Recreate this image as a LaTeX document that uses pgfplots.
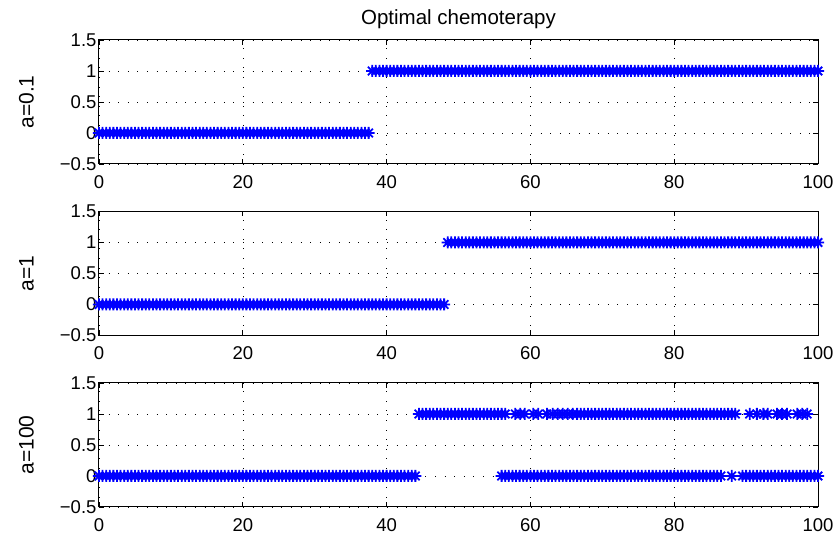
\documentclass[border=0pt]{standalone}
\usepackage{fontspec}
\setmainfont{Liberation Sans}
\usepackage{pgfplots}
\pgfplotsset{compat=1.18}

% MATLAB-like 8-arm asterisk
\pgfdeclareplotmark{mstar}{%
  \pgfpathmoveto{\pgfpoint{-\pgfplotmarksize}{0pt}}\pgfpathlineto{\pgfpoint{\pgfplotmarksize}{0pt}}%
  \pgfpathmoveto{\pgfpoint{0pt}{-\pgfplotmarksize}}\pgfpathlineto{\pgfpoint{0pt}{\pgfplotmarksize}}%
  \pgfpathmoveto{\pgfpoint{-0.707\pgfplotmarksize}{-0.707\pgfplotmarksize}}\pgfpathlineto{\pgfpoint{0.707\pgfplotmarksize}{0.707\pgfplotmarksize}}%
  \pgfpathmoveto{\pgfpoint{-0.707\pgfplotmarksize}{0.707\pgfplotmarksize}}\pgfpathlineto{\pgfpoint{0.707\pgfplotmarksize}{-0.707\pgfplotmarksize}}%
  \pgfusepathqstroke}

\pgfplotsset{
  panel/.style={
    scale only axis, width=719pt, height=124pt,
    xmin=0, xmax=100, ymin=-0.5, ymax=1.5,
    xtick={0,20,40,60,80,100}, xticklabels={0,20,40,60,80,100},
    ytick={-0.5,0,0.5,1,1.5}, yticklabels={−0.5,0,0.5,1,1.5},
    grid=major,
    grid style={black, line width=0.6pt, dash pattern=on 0.6pt off 9pt},
    tick align=inside, major tick length=5pt,
    axis line style={line width=1pt},
    every tick/.style={black, line width=0.8pt},
    tick label style={font=\fontsize{18.5}{20}\selectfont},
    yticklabel style={xshift=1pt},
    xticklabel style={yshift=-8pt},
    ylabel style={font=\fontsize{21}{23}\selectfont, at={(axis description cs:0,0.5)}, anchor=center, yshift=72.5pt},
    clip=false,
  },
  dots/.style={only marks, mark=mstar, color=blue, mark size=6pt, line width=1.8pt},
}

\begin{document}
\begin{tikzpicture}
\path[use as bounding box] (-99pt,-31pt) rectangle (739pt,507pt);

% ---------------- a = 0.1 ----------------
\begin{axis}[panel, at={(0pt,343pt)}, ylabel={a=0.1},
  title={Optimal chemoterapy}, title style={font=\fontsize{20.5}{22}\selectfont, yshift=2pt}]
\addplot[dots] coordinates {
(0,0) (0.5,0) (1,0) (1.5,0) (2,0) (2.5,0) (3,0) (3.5,0) (4,0) (4.5,0)
(5,0) (5.5,0) (6,0) (6.5,0) (7,0) (7.5,0) (8,0) (8.5,0) (9,0) (9.5,0)
(10,0) (10.5,0) (11,0) (11.5,0) (12,0) (12.5,0) (13,0) (13.5,0) (14,0) (14.5,0)
(15,0) (15.5,0) (16,0) (16.5,0) (17,0) (17.5,0) (18,0) (18.5,0) (19,0) (19.5,0)
(20,0) (20.5,0) (21,0) (21.5,0) (22,0) (22.5,0) (23,0) (23.5,0) (24,0) (24.5,0)
(25,0) (25.5,0) (26,0) (26.5,0) (27,0) (27.5,0) (28,0) (28.5,0) (29,0) (29.5,0)
(30,0) (30.5,0) (31,0) (31.5,0) (32,0) (32.5,0) (33,0) (33.5,0) (34,0) (34.5,0)
(35,0) (35.5,0) (36,0) (36.5,0) (37,0) (37.5,0)
};
\addplot[dots] coordinates {
(38,1) (38.5,1) (39,1) (39.5,1)
(40,1) (40.5,1) (41,1) (41.5,1) (42,1) (42.5,1) (43,1) (43.5,1) (44,1) (44.5,1)
(45,1) (45.5,1) (46,1) (46.5,1) (47,1) (47.5,1) (48,1) (48.5,1) (49,1) (49.5,1)
(50,1) (50.5,1) (51,1) (51.5,1) (52,1) (52.5,1) (53,1) (53.5,1) (54,1) (54.5,1)
(55,1) (55.5,1) (56,1) (56.5,1) (57,1) (57.5,1) (58,1) (58.5,1) (59,1) (59.5,1)
(60,1) (60.5,1) (61,1) (61.5,1) (62,1) (62.5,1) (63,1) (63.5,1) (64,1) (64.5,1)
(65,1) (65.5,1) (66,1) (66.5,1) (67,1) (67.5,1) (68,1) (68.5,1) (69,1) (69.5,1)
(70,1) (70.5,1) (71,1) (71.5,1) (72,1) (72.5,1) (73,1) (73.5,1) (74,1) (74.5,1)
(75,1) (75.5,1) (76,1) (76.5,1) (77,1) (77.5,1) (78,1) (78.5,1) (79,1) (79.5,1)
(80,1) (80.5,1) (81,1) (81.5,1) (82,1) (82.5,1) (83,1) (83.5,1) (84,1) (84.5,1)
(85,1) (85.5,1) (86,1) (86.5,1) (87,1) (87.5,1) (88,1) (88.5,1) (89,1) (89.5,1)
(90,1) (90.5,1) (91,1) (91.5,1) (92,1) (92.5,1) (93,1) (93.5,1) (94,1) (94.5,1)
(95,1) (95.5,1) (96,1) (96.5,1) (97,1) (97.5,1) (98,1) (98.5,1) (99,1) (99.5,1)
(100,1)
};
\end{axis}

% ---------------- a = 1 ----------------
\begin{axis}[panel, at={(0pt,171.5pt)}, ylabel={a=1}]
\addplot[dots] coordinates {
(0,0) (0.5,0) (1,0) (1.5,0) (2,0) (2.5,0) (3,0) (3.5,0) (4,0) (4.5,0)
(5,0) (5.5,0) (6,0) (6.5,0) (7,0) (7.5,0) (8,0) (8.5,0) (9,0) (9.5,0)
(10,0) (10.5,0) (11,0) (11.5,0) (12,0) (12.5,0) (13,0) (13.5,0) (14,0) (14.5,0)
(15,0) (15.5,0) (16,0) (16.5,0) (17,0) (17.5,0) (18,0) (18.5,0) (19,0) (19.5,0)
(20,0) (20.5,0) (21,0) (21.5,0) (22,0) (22.5,0) (23,0) (23.5,0) (24,0) (24.5,0)
(25,0) (25.5,0) (26,0) (26.5,0) (27,0) (27.5,0) (28,0) (28.5,0) (29,0) (29.5,0)
(30,0) (30.5,0) (31,0) (31.5,0) (32,0) (32.5,0) (33,0) (33.5,0) (34,0) (34.5,0)
(35,0) (35.5,0) (36,0) (36.5,0) (37,0) (37.5,0) (38,0) (38.5,0) (39,0) (39.5,0)
(40,0) (40.5,0) (41,0) (41.5,0) (42,0) (42.5,0) (43,0) (43.5,0) (44,0) (44.5,0)
(45,0) (45.5,0) (46,0) (46.5,0) (47,0) (47.5,0) (48,0)
};
\addplot[dots] coordinates {
(48.5,1) (49,1) (49.5,1)
(50,1) (50.5,1) (51,1) (51.5,1) (52,1) (52.5,1) (53,1) (53.5,1) (54,1) (54.5,1)
(55,1) (55.5,1) (56,1) (56.5,1) (57,1) (57.5,1) (58,1) (58.5,1) (59,1) (59.5,1)
(60,1) (60.5,1) (61,1) (61.5,1) (62,1) (62.5,1) (63,1) (63.5,1) (64,1) (64.5,1)
(65,1) (65.5,1) (66,1) (66.5,1) (67,1) (67.5,1) (68,1) (68.5,1) (69,1) (69.5,1)
(70,1) (70.5,1) (71,1) (71.5,1) (72,1) (72.5,1) (73,1) (73.5,1) (74,1) (74.5,1)
(75,1) (75.5,1) (76,1) (76.5,1) (77,1) (77.5,1) (78,1) (78.5,1) (79,1) (79.5,1)
(80,1) (80.5,1) (81,1) (81.5,1) (82,1) (82.5,1) (83,1) (83.5,1) (84,1) (84.5,1)
(85,1) (85.5,1) (86,1) (86.5,1) (87,1) (87.5,1) (88,1) (88.5,1) (89,1) (89.5,1)
(90,1) (90.5,1) (91,1) (91.5,1) (92,1) (92.5,1) (93,1) (93.5,1) (94,1) (94.5,1)
(95,1) (95.5,1) (96,1) (96.5,1) (97,1) (97.5,1) (98,1) (98.5,1) (99,1) (99.5,1)
(100,1)
};
\end{axis}

% ---------------- a = 100 ----------------
\begin{axis}[panel, at={(0pt,0pt)}, ylabel={a=100}]
\addplot[dots] coordinates {
(0,0) (0.5,0) (1,0) (1.5,0) (2,0) (2.5,0) (3,0) (3.5,0) (4,0) (4.5,0)
(5,0) (5.5,0) (6,0) (6.5,0) (7,0) (7.5,0) (8,0) (8.5,0) (9,0) (9.5,0)
(10,0) (10.5,0) (11,0) (11.5,0) (12,0) (12.5,0) (13,0) (13.5,0) (14,0) (14.5,0)
(15,0) (15.5,0) (16,0) (16.5,0) (17,0) (17.5,0) (18,0) (18.5,0) (19,0) (19.5,0)
(20,0) (20.5,0) (21,0) (21.5,0) (22,0) (22.5,0) (23,0) (23.5,0) (24,0) (24.5,0)
(25,0) (25.5,0) (26,0) (26.5,0) (27,0) (27.5,0) (28,0) (28.5,0) (29,0) (29.5,0)
(30,0) (30.5,0) (31,0) (31.5,0) (32,0) (32.5,0) (33,0) (33.5,0) (34,0) (34.5,0)
(35,0) (35.5,0) (36,0) (36.5,0) (37,0) (37.5,0) (38,0) (38.5,0) (39,0) (39.5,0)
(40,0) (40.5,0) (41,0) (41.5,0) (42,0) (42.5,0) (43,0) (43.5,0) (44,0)
};
\addplot[dots] coordinates {
(44.5,1)
(45,1) (45.5,1) (46,1) (46.5,1) (47,1) (47.5,1) (48,1) (48.5,1) (49,1) (49.5,1)
(50,1) (50.5,1) (51,1) (51.5,1) (52,1) (52.5,1) (53,1) (53.5,1) (54,1) (54.5,1)
(55,1) (55.5,1) (56,1) (56.5,1)
};
\addplot[dots] coordinates {
(56,0) (56.5,0) (57,0) (57.5,0) (58,0) (58.5,0) (59,0) (59.5,0)
(60,0) (60.5,0) (61,0) (61.5,0) (62,0) (62.5,0) (63,0) (63.5,0) (64,0) (64.5,0)
(65,0) (65.5,0) (66,0) (66.5,0) (67,0) (67.5,0) (68,0) (68.5,0) (69,0) (69.5,0)
(70,0) (70.5,0) (71,0) (71.5,0) (72,0) (72.5,0) (73,0) (73.5,0) (74,0) (74.5,0)
(75,0) (75.5,0) (76,0) (76.5,0) (77,0) (77.5,0) (78,0) (78.5,0) (79,0) (79.5,0)
(80,0) (80.5,0) (81,0) (81.5,0) (82,0) (82.5,0) (83,0) (83.5,0) (84,0) (84.5,0)
(85,0) (85.5,0) (86,0) (86.5,0)
(88,0)
(89.5,0)
(90,0) (90.5,0) (91,0) (91.5,0) (92,0) (92.5,0) (93,0) (93.5,0) (94,0) (94.5,0)
(95,0) (95.5,0) (96,0) (96.5,0) (97,0) (97.5,0) (98,0) (98.5,0) (99,0) (99.5,0)
(100,0)
};
\addplot[dots] coordinates {
(57.9,1) (58.6,1) (59.2,1) (60.4,1) (61.1,1) (62.3,1) (63.1,1) (63.8,1) (64.5,1) (65.2,1) (65.9,1)
(66.5,1) (67,1) (67.5,1) (68,1) (68.5,1) (69,1) (69.5,1)
(70,1) (70.5,1) (71,1) (71.5,1) (72,1) (72.5,1) (73,1) (73.5,1) (74,1) (74.5,1)
(75,1) (75.5,1) (76,1) (76.5,1) (77,1) (77.5,1) (78,1) (78.5,1) (79,1) (79.5,1)
(80,1) (80.5,1) (81,1) (81.5,1) (82,1) (82.5,1) (83,1) (83.5,1) (84,1) (84.5,1)
(85,1) (85.5,1) (86,1) (86.5,1) (87,1) (87.5,1) (88,1) (88.5,1)
(90.5,1) (91.5,1) (92.4,1) (93.0,1) (94.3,1) (95.0,1) (95.7,1) (97.1,1) (97.8,1) (98.5,1)
};
\end{axis}
\end{tikzpicture}
\end{document}
